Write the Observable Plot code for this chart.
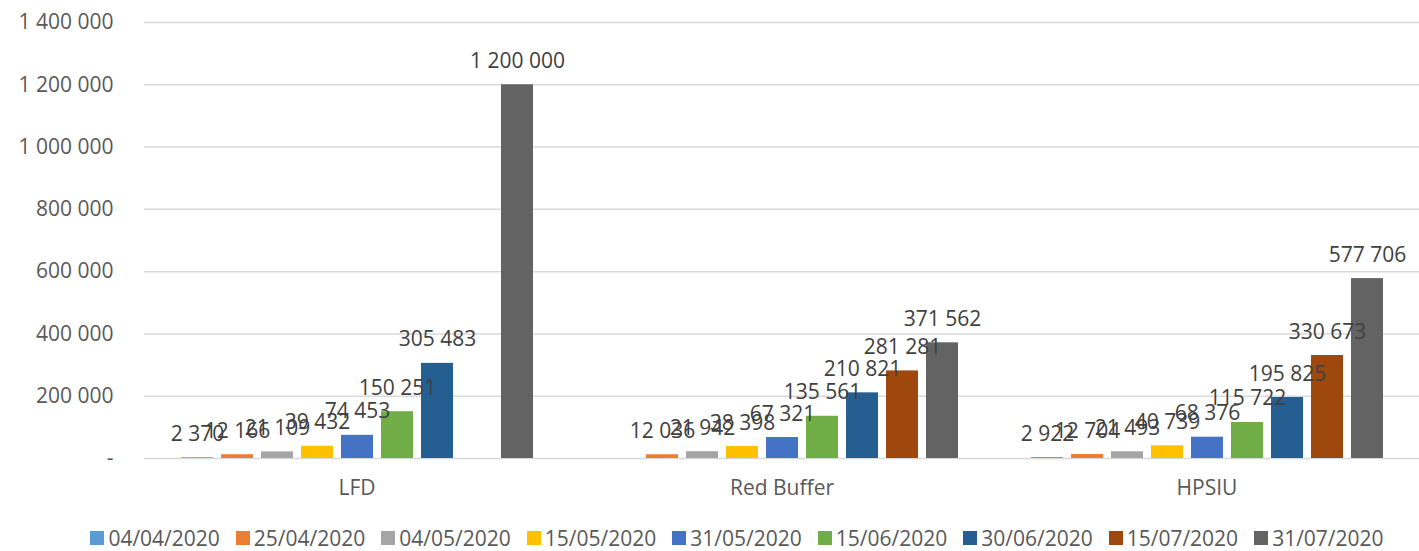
<!DOCTYPE html>
<html>
<head>
<meta charset="utf-8">
<script src="https://cdn.jsdelivr.net/npm/d3@7"></script>
<script src="https://cdn.jsdelivr.net/npm/@observablehq/plot@0.6"></script>
<style>
  body { margin: 0; background: #fff; font-family: "Open Sans", sans-serif; }
  #chart svg { display: block; }
  #legend { display: flex; justify-content: center; align-items: center; height: 24px; margin-top: 16px; margin-left: 55px; font-size: 21px; line-height: 1; color: #595959; }
  #legend .item { display: flex; align-items: center; margin: 0 8px; }
  #legend .sw { width: 14px; height: 14px; margin-right: 4px; }
</style>
</head>
<body>
<div id="chart"></div>
<div id="legend"></div>
<script>
const categories = ["LFD", "Red Buffer", "HPSIU"];
const dates = ["04/04/2020", "25/04/2020", "04/05/2020", "15/05/2020", "31/05/2020", "15/06/2020", "30/06/2020", "15/07/2020", "31/07/2020"];
const colors = ["#5B9BD5", "#ED7D31", "#A5A5A5", "#FFC000", "#4472C4", "#70AD47", "#255E91", "#9E480E", "#636363"];
const lfd = [2370, 12166, 21109, 39432, 74453, 150251, 305483, null, 1200000];
const redBuffer = [null, 12036, 21942, 38398, 67321, 135561, 210821, 281281, 371562];
const hpsiu = [2922, 12704, 21493, 40739, 68376, 115722, 195825, 330673, 577706];
const yTicks = [0, 200000, 400000, 600000, 800000, 1000000, 1200000, 1400000];

const series = [lfd, redBuffer, hpsiu];
const data = [];
categories.forEach((c, i) => {
  dates.forEach((d, j) => {
    const v = series[i][j];
    if (v != null) data.push({cat: c, date: d, value: v});
  });
});

const loc = d3.formatLocale({thousands: "\u00a0", grouping: [3], decimal: ",", currency: ["", ""]});
const fmt = loc.format(",d");
const yFmt = v => v === 0 ? "-" : fmt(v);

const chart = Plot.plot({
  width: 1419,
  height: 510,
  marginLeft: 143,
  marginRight: 0,
  marginTop: 22,
  marginBottom: 52,
  style: {fontFamily: "Open Sans, sans-serif", fontSize: "21px", color: "#595959", background: "#fff"},
  fx: {domain: categories, padding: 0, label: null, axis: "bottom", tickSize: 0, tickPadding: 22},
  x: {domain: dates, paddingInner: 0.21, paddingOuter: 0.8, axis: null},
  y: {domain: [0, 1400000], axis: null},
  color: {domain: dates, range: colors},
  marks: [
    Plot.ruleY(yTicks, {stroke: "#d9d9d9", strokeWidth: 1.5}),
    Plot.barY(data, {fx: "cat", x: "date", y: "value", fill: "date"}),
    Plot.text(data, {fx: "cat", x: "date", y: "value", text: d => fmt(d.value), lineAnchor: "bottom", dy: -17, fill: "#404040", fontSize: 21}),
    Plot.axisY({ticks: yTicks, tickFormat: yFmt, tickSize: 0, tickPadding: 31, fill: "#595959", fontSize: 21, label: null})
  ]
});
document.getElementById("chart").appendChild(chart);

const legend = document.getElementById("legend");
dates.forEach((d, i) => {
  const it = document.createElement("div");
  it.className = "item";
  const sw = document.createElement("div");
  sw.className = "sw";
  sw.style.background = colors[i];
  const t = document.createElement("span");
  t.textContent = d;
  it.appendChild(sw); it.appendChild(t);
  legend.appendChild(it);
});
</script>
</body>
</html>
